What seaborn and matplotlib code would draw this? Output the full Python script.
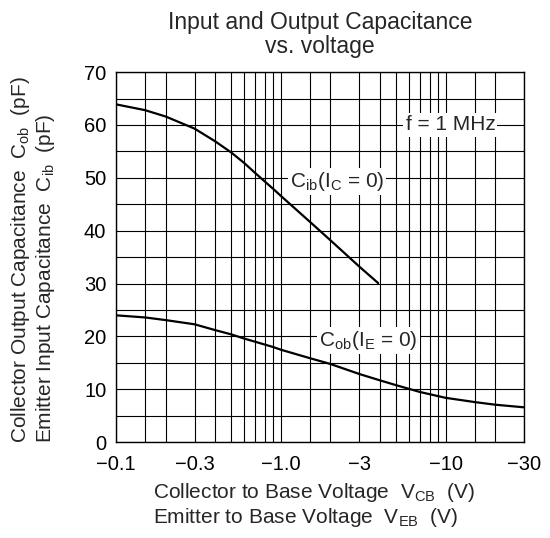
import matplotlib
matplotlib.use("Agg")
import matplotlib.pyplot as plt
import pandas as pd
import seaborn as sns

# Data (x is |V| in volts, y in pF)
cib_v = [0.1, 0.15, 0.2, 0.3, 0.4, 0.5, 0.6, 0.7, 0.8, 0.9, 1.0, 1.5, 2.0, 3.0, 3.9]
cib_c = [63.9, 62.8, 61.6, 59.3, 56.9, 54.8, 52.8, 50.9, 49.3, 47.9, 46.6, 41.7, 38.2, 33.2, 30.1]

cob_v = [0.1, 0.15, 0.2, 0.3, 0.4, 0.5, 0.6, 0.7, 0.9, 1.0, 1.5, 2.0, 3.0, 4.0, 5.0, 7.0, 10, 15, 20, 30]
cob_c = [24.0, 23.6, 23.1, 22.3, 21.2, 20.4, 19.6, 19.0, 18.0, 17.5, 15.9, 14.8, 12.9, 11.7, 10.8, 9.5, 8.4, 7.6, 7.1, 6.6]

x_ticks = [0.1, 0.3, 1, 3, 10, 30]
x_labels = ["\u22120.1", "\u22120.3", "\u22121.0", "\u22123", "\u221210", "\u221230"]
y_ticks = [0, 10, 20, 30, 40, 50, 60, 70]

sns.set_style("white")
plt.rcParams['font.family'] = ['Liberation Sans', 'DejaVu Sans']
plt.rcParams['mathtext.fontset'] = 'custom'
plt.rcParams['mathtext.rm'] = 'Liberation Sans'
plt.rcParams['mathtext.it'] = 'Liberation Sans'

df_ib = pd.DataFrame({"v": cib_v, "c": cib_c})
df_ob = pd.DataFrame({"v": cob_v, "c": cob_c})

fig = plt.figure(figsize=(5.5, 5.38), dpi=100)
ax = fig.add_axes([0.211, 0.178, 0.742, 0.688])

sns.lineplot(data=df_ib, x="v", y="c", ax=ax, color="black", lw=1.6, zorder=3)
sns.lineplot(data=df_ob, x="v", y="c", ax=ax, color="black", lw=1.6, zorder=3)

ax.set_xscale("log")
ax.set_xlim(0.1, 30)
ax.set_ylim(0, 70)

# grid: 1, 1.5, 2, 3 ... 9 per decade, every 5 pF
xgrid = []
for dec in [0.1, 1, 10]:
    for m in [1, 1.5, 2, 3, 4, 5, 6, 7, 8, 9]:
        if dec * m <= 30:
            xgrid.append(dec * m)
for xv in xgrid:
    ax.axvline(xv, color="black", lw=0.8, zorder=1)
for yv in range(0, 71, 5):
    ax.axhline(yv, color="black", lw=0.8, zorder=1)

ax.set_xticks(x_ticks)
ax.set_xticklabels(x_labels)
ax.xaxis.set_minor_locator(matplotlib.ticker.NullLocator())
ax.set_yticks(y_ticks)
ax.tick_params(axis="both", length=0, labelsize=14.5, colors="black")
ax.tick_params(axis="x", pad=9)
ax.tick_params(axis="y", pad=7)
ax.set_xlabel("")
ax.set_ylabel("")
for s in ax.spines.values():
    s.set_color("black")
    s.set_linewidth(1.0)

ax.set_title("Input and Output Capacitance\nvs. voltage", fontsize=16.5, pad=14,
             linespacing=1.05)

box = dict(facecolor="white", edgecolor="none", pad=1.5)
fs = 15
ax.text(10.7, 60, "f = 1 MHz", fontsize=fs, ha="center", va="center", bbox=box, zorder=4)
ax.text(2.2, 49.3, r"C$_{\rm ib}$(I$_{\rm C}$ = 0)", fontsize=fs, ha="center",
        va="center", bbox=box, zorder=4)
ax.text(3.4, 19.3, r"C$_{\rm ob}$(I$_{\rm E}$ = 0)", fontsize=fs, ha="center",
        va="center", bbox=box, zorder=4)

fig.text(0.038, 0.176, r"Collector Output Capacitance  C$_{\rm ob}$  (pF)",
         rotation=90, fontsize=fs, ha="center", va="bottom")
fig.text(0.082, 0.176, r"Emitter Input Capacitance  C$_{\rm ib}$  (pF)",
         rotation=90, fontsize=fs, ha="center", va="bottom")
fig.text(0.278, 0.074, r"Collector to Base Voltage  V$_{\rm CB}$  (V)",
         fontsize=fs, ha="left", va="baseline")
fig.text(0.278, 0.028, r"Emitter to Base Voltage  V$_{\rm EB}$  (V)",
         fontsize=fs, ha="left", va="baseline")

fig.savefig("out.png", dpi=100)
